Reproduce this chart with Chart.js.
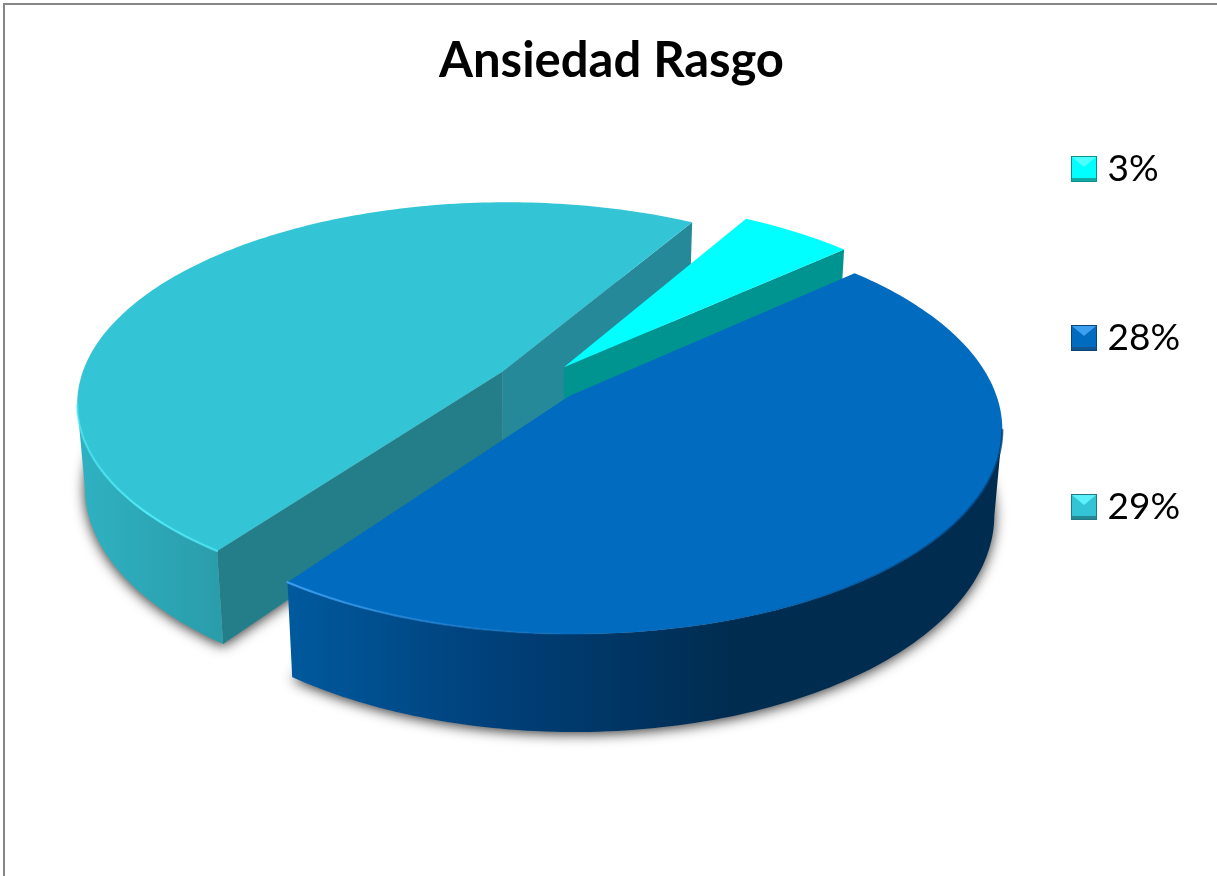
<!DOCTYPE html>
<html>
<head>
<meta charset="utf-8">
<title>Ansiedad Rasgo</title>
<script src="https://cdn.jsdelivr.net/npm/chart.js@4"></script>
<style>
  html, body { margin: 0; padding: 0; background: #fff; }
  canvas { display: block; }
</style>
</head>
<body>
<canvas id="chart" width="1217" height="876"></canvas>
<script>
// Series
const chartTitle = 'Ansiedad Rasgo';
const categories = ['3%', '28%', '29%'];
const values = [3, 28, 29];

// Colours, one entry per slice
const topColors = ['#00FFFF', '#006BBF', '#33C5D5'];
const startFaceColors = ['#009490', '#00487f', '#247E8A'];
const endFaceColors = ['#009490', '#00487f', '#26899A'];
const wallStops = [
  [[0, '#009490'], [1, '#009490']],
  [[0, '#005A9E'], [0.3, '#003F78'], [0.62, '#002C50'], [1, '#002C50']],
  [[0, '#2FB2C2'], [1, '#2A9CAA']]
];
const rimStops = [
  [[0, 'rgba(0,255,255,0)'], [1, 'rgba(0,255,255,0)']],
  [[0, 'rgba(60,160,240,0.95)'], [0.3, 'rgba(30,130,215,0.4)'], [0.5, 'rgba(0,107,191,0)'], [0.8, 'rgba(0,60,120,0.35)'], [1, 'rgba(0,50,100,0.7)']],
  [[0, 'rgba(80,235,250,0.6)'], [0.5, 'rgba(80,235,250,0.95)'], [1, 'rgba(80,235,250,0.7)']]
];
const bevelColors = [
  { top: '#4DFFFF', face: '#00FFFF', bottom: '#10A8A4', edge: '#0B8F8B' },
  { top: '#3D9FEF', face: '#006BBF', bottom: '#12548F', edge: '#0B4578' },
  { top: '#5CF0FA', face: '#33C5D5', bottom: '#258A96', edge: '#1F7A85' }
];

// Pie drawn on a tilted plane seen in perspective
const view = { cx: 537.5, cy: 382.5, scaleX: 423, scaleY: 198, persp: 0.15, depthRate: 0.06, depthBase: 60, vanish: 5000 };

function projectTop(x, y) {
  const s = 1 / (1 - view.persp * y);
  return { x: view.cx + view.scaleX * x * s, y: view.cy + view.scaleY * y * s };
}
function dropToBase(p) {
  const d = view.depthBase + view.depthRate * p.y;
  return { x: view.cx + (p.x - view.cx) * (1 - d / view.vanish), y: p.y + d };
}
function tracePath(ctx, pts) {
  ctx.beginPath();
  pts.forEach((p, i) => i ? ctx.lineTo(p.x, p.y) : ctx.moveTo(p.x, p.y));
}
function fillPoly(ctx, pts, style) {
  tracePath(ctx, pts);
  ctx.closePath();
  ctx.fillStyle = style;
  ctx.fill();
}
function horizontalGradient(ctx, pts, stops) {
  const xs = pts.map(p => p.x);
  const g = ctx.createLinearGradient(Math.min(...xs), 0, Math.max(...xs), 0);
  stops.forEach(([at, c]) => g.addColorStop(at, c));
  return g;
}

// Outline of one arc element on the tilted plane
function sliceGeometry(arc) {
  const R = arc.outerRadius;
  const mid = (arc.startAngle + arc.endAngle) / 2;
  const ox = arc.options.offset * Math.cos(mid) / R;
  const oy = arc.options.offset * Math.sin(mid) / R;
  const rim = [];
  const steps = 160;
  for (let i = 0; i <= steps; i++) {
    const a = arc.startAngle + (arc.endAngle - arc.startAngle) * i / steps;
    rim.push(projectTop(ox + Math.cos(a), oy + Math.sin(a)));
  }
  return { apex: projectTop(ox, oy), rim };
}

const pie3d = {
  id: 'pie3d',
  beforeDraw(chart) {
    const { ctx, width, height } = chart;
    ctx.save();
    ctx.fillStyle = '#fff';
    ctx.fillRect(0, 0, width, height);
    ctx.fillStyle = '#868686';
    ctx.fillRect(3, 3, width, 2);
    ctx.fillRect(3, 3, 2, height);
    ctx.restore();
  },
  afterLayout(chart) {
    // Legend column sits at a fixed place at the right of the pie
    const labels = chart.options.plugins.legend.labels;
    chart.legend.left = 1079 - labels.padding;
    chart.legend.top = 169 - labels.font.size / 2 - labels.padding;
    chart.legend.bottom = chart.height;
  },
  beforeDatasetDraw(chart, args) {
    const { ctx } = chart;
    const arcs = args.meta.data;
    const geoms = arcs.map(sliceGeometry);

    ctx.save();
    // Soft ground shadow under every slice
    geoms.forEach(g => {
      ctx.save();
      ctx.shadowColor = 'rgba(0,0,0,0.8)';
      ctx.shadowBlur = 13;
      ctx.shadowOffsetY = 2;
      fillPoly(ctx, [g.apex, ...g.rim].map(dropToBase), '#999');
      ctx.restore();
    });

    // Back slices first, the front slice last
    [2, 0, 1].forEach(i => {
      const g = geoms[i];
      const first = g.rim[0], last = g.rim[g.rim.length - 1];

      if (first.x < g.apex.x) {
        fillPoly(ctx, [g.apex, first, dropToBase(first), dropToBase(g.apex)], startFaceColors[i]);
      }
      if (g.apex.x < last.x) {
        fillPoly(ctx, [last, g.apex, dropToBase(g.apex), dropToBase(last)], endFaceColors[i]);
      }

      // Visible run of the outer wall
      const run = [];
      for (let k = 1; k < g.rim.length; k++) {
        if (g.rim[k].x < g.rim[k - 1].x) {
          if (!run.length) run.push(g.rim[k - 1]);
          run.push(g.rim[k]);
        }
      }
      if (run.length > 1) {
        const wall = [...run, ...run.map(dropToBase).reverse()];
        fillPoly(ctx, wall, horizontalGradient(ctx, wall, wallStops[i]));
      }

      fillPoly(ctx, [g.apex, ...g.rim], arcs[i].options.backgroundColor);

      if (run.length > 1) {
        tracePath(ctx, run);
        ctx.lineWidth = 2.2;
        ctx.lineCap = 'round';
        ctx.strokeStyle = horizontalGradient(ctx, run, rimStops[i]);
        ctx.stroke();
      }
    });
    ctx.restore();
    return false;
  }
};

// Bevelled legend swatch
function bevelSwatch(c) {
  const size = 26;
  const cv = document.createElement('canvas');
  cv.width = size; cv.height = size;
  const x = cv.getContext('2d');
  x.fillStyle = c.edge; x.fillRect(0, 0, size, size);
  x.fillStyle = c.face; x.fillRect(1, 1, size - 2, size - 2);
  x.beginPath();
  x.moveTo(1, 1); x.lineTo(size - 1, 1); x.lineTo(size / 2, 11); x.closePath();
  x.fillStyle = c.top; x.fill();
  x.fillStyle = c.bottom; x.fillRect(1, size - 4, size - 2, 3);
  return cv;
}

new Chart(document.getElementById('chart'), {
  type: 'pie',
  data: {
    labels: categories,
    datasets: [{
      data: values,
      backgroundColor: topColors,
      borderWidth: 0,
      offset: 30
    }]
  },
  options: {
    responsive: false,
    animation: false,
    rotation: 30,
    radius: 300,
    layout: { padding: { left: 6 } },
    plugins: {
      tooltip: { enabled: false },
      title: {
        display: true,
        text: chartTitle,
        color: '#000',
        font: { family: 'Lato', size: 49, weight: 'bold' },
        padding: { top: 32, bottom: 10 }
      },
      legend: {
        position: 'right',
        align: 'start',
        labels: {
          color: '#000',
          font: { family: 'Lato', size: 37 },
          usePointStyle: true,
          boxWidth: 10,
          padding: 132,
          generateLabels(chart) {
            return categories.map((text, i) => ({
              text,
              index: i,
              fontColor: '#000',
              pointStyle: bevelSwatch(bevelColors[i]),
              hidden: false
            }));
          }
        }
      }
    }
  },
  plugins: [pie3d]
});
</script>
</body>
</html>
